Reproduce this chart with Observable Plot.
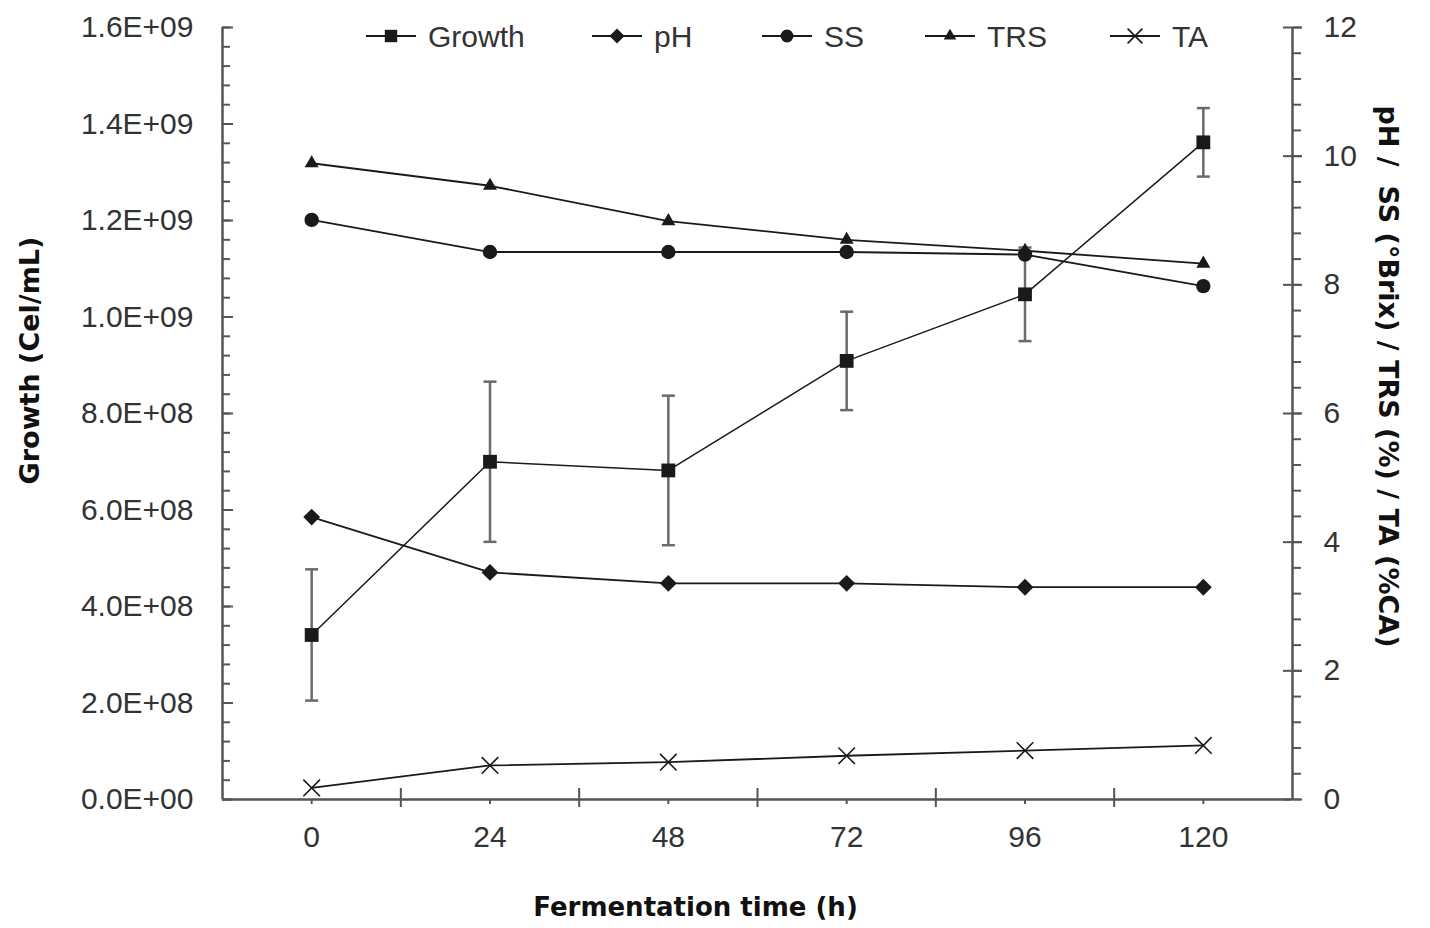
<!DOCTYPE html>
<html><head><meta charset="utf-8">
<script src="https://cdn.jsdelivr.net/npm/d3@7"></script>
<script src="https://cdn.jsdelivr.net/npm/@observablehq/plot@0.6"></script>
<style>
html,body{margin:0;padding:0;background:#fff;}
#chart{position:relative;width:1430px;height:928px;}
#legend{position:absolute;left:0;top:0;pointer-events:none;}
</style></head><body><div id="chart"></div>
<script>
// ---- data ----
const hours = [0, 24, 48, 72, 96, 120];
const growth = [3.41e8, 7.00e8, 6.82e8, 9.09e8, 10.47e8, 13.62e8];
const growthErr = [1.36e8, 1.66e8, 1.55e8, 1.02e8, 0.97e8, 0.71e8];
const pH  = [4.39, 3.53, 3.36, 3.36, 3.30, 3.30];
const ss  = [9.01, 8.51, 8.51, 8.51, 8.47, 7.98];
const trs = [9.89, 9.54, 8.99, 8.70, 8.53, 8.33];
const ta  = [0.18, 0.53, 0.58, 0.68, 0.76, 0.84];

const seriesNames = ["Growth", "pH", "SS", "TRS", "TA"];
const leftTicks = [0, 2e8, 4e8, 6e8, 8e8, 1.0e9, 1.2e9, 1.4e9, 1.6e9];
const rightTicks = [0, 2, 4, 6, 8, 10, 12];
const xMidTicks = [12, 36, 60, 84, 108];
const xTitle = "Fermentation time (h)";
const yLeftTitle = "Growth (Cel/mL)";
const yRightTitle = "pH /\u00a0 SS (°Brix) / TRS (%) / TA (%CA)";

// ---- layout / style ----
const W = 1430, H = 928;
const K = 1.6e9 / 12; // right-axis unit -> left-axis unit
const leftMinor = d3.range(0, 1.6e9 + 1, 4e7);
const rightMinor = d3.range(0, 12.001, 0.4).map(v => v * K);
const axisColor = "#555";
const textColor = "#333";
const lineColor = "#1a1a1a";
const tickFont = "'Liberation Sans', Arial, sans-serif";
const titleFont = "'DejaVu Sans', Verdana, sans-serif";

const sci = d => {
  if (d === 0) return "0.0E+00";
  const e = Math.floor(Math.log10(d) + 1e-9);
  const m = d / Math.pow(10, e);
  return m.toFixed(1) + "E+" + String(e).padStart(2, "0");
};

const capSymbol = {
  draw(ctx, size) { const w = Math.sqrt(size / Math.PI); ctx.moveTo(-w, 0); ctx.lineTo(w, 0); }
};

const symbolSpec = [
  {plot: "square", d3s: d3.symbolSquare, r: 7.8, fill: lineColor, stroke: "none"},
  {plot: "diamond2", d3s: d3.symbolDiamond2, r: 7.6, fill: lineColor, stroke: "none"},
  {plot: "circle", d3s: d3.symbolCircle, r: 7.2, fill: lineColor, stroke: "none"},
  {plot: "triangle", d3s: d3.symbolTriangle, r: 5.2, fill: lineColor, stroke: "none"},
  {plot: "times", d3s: d3.symbolTimes, r: 7.6, fill: "none", stroke: lineColor}
];

const seriesY = [
  (d, i) => growth[i],
  (d, i) => pH[i] * K,
  (d, i) => ss[i] * K,
  (d, i) => trs[i] * K,
  (d, i) => ta[i] * K
];

const seriesMarks = [];
seriesY.forEach((yf, s) => {
  seriesMarks.push(Plot.line(hours, {x: d => d, y: yf, stroke: lineColor, strokeWidth: s === 0 ? 1.5 : 1.8}));
});
seriesY.forEach((yf, s) => {
  const sp = symbolSpec[s];
  seriesMarks.push(Plot.dot(hours, {x: d => d, y: yf, symbol: sp.plot, r: sp.r,
    fill: sp.fill, stroke: sp.stroke, strokeWidth: sp.stroke === "none" ? 0 : 1.6}));
});

const plot = Plot.plot({
  width: W, height: H,
  marginLeft: 222, marginRight: 138, marginTop: 27, marginBottom: 129,
  style: {fontFamily: tickFont, fontSize: "30px", color: textColor, background: "#fff", overflow: "visible"},
  x: {domain: [-12, 132], axis: null, label: null},
  y: {domain: [0, 1.6e9], axis: null, label: null},
  marks: [
    // left axis
    Plot.axisY({anchor: "left", ticks: leftMinor, tickSize: 8, dx: 8, fill: "none", stroke: axisColor, strokeWidth: 2, label: null}),
    Plot.axisY({anchor: "left", ticks: leftTicks, tickSize: 11, dx: 11, fill: "none", stroke: axisColor, strokeWidth: 2, label: null}),
    Plot.axisY({anchor: "left", ticks: leftTicks, tickSize: 0, tickPadding: 29, tickFormat: sci, stroke: "none", fill: textColor, fontSize: 30, label: null}),
    // right axis
    Plot.axisY({anchor: "right", ticks: rightMinor, tickSize: 8, fill: "none", stroke: axisColor, strokeWidth: 2, label: null}),
    Plot.axisY({anchor: "right", ticks: rightTicks.map(v => v * K), tickSize: 19, dx: -10, fill: "none", stroke: axisColor, strokeWidth: 2, label: null}),
    Plot.axisY({anchor: "right", ticks: rightTicks.map(v => v * K), tickSize: 0, tickPadding: 31, tickFormat: d => String(Math.round(d / K)), stroke: "none", fill: textColor, fontSize: 30, label: null}),
    // x axis
    Plot.axisX({anchor: "bottom", ticks: hours, tickSize: 5, fill: "none", stroke: axisColor, strokeWidth: 2, label: null}),
    Plot.axisX({anchor: "bottom", ticks: xMidTicks, tickSize: 19, dy: -11, fill: "none", stroke: axisColor, strokeWidth: 2, label: null}),
    Plot.axisX({anchor: "bottom", ticks: hours, tickSize: 0, tickPadding: 26, tickFormat: d => String(d), stroke: "none", fill: textColor, fontSize: 30, label: null}),
    // axis lines
    Plot.ruleX([-12, 132], {stroke: axisColor, strokeWidth: 2.5}),
    Plot.ruleY([0], {stroke: axisColor, strokeWidth: 2.5}),
    // error bars
    Plot.ruleX(hours, {x: d => d, y1: (d, i) => growth[i] - growthErr[i], y2: (d, i) => growth[i] + growthErr[i], stroke: "#6a6a6a", strokeWidth: 2.5}),
    Plot.dot(hours, {x: d => d, y: (d, i) => growth[i] + growthErr[i], symbol: capSymbol, r: 6.5, fill: "none", stroke: "#6a6a6a", strokeWidth: 2.5}),
    Plot.dot(hours, {x: d => d, y: (d, i) => growth[i] - growthErr[i], symbol: capSymbol, r: 6.5, fill: "none", stroke: "#6a6a6a", strokeWidth: 2.5}),
    // series
    ...seriesMarks,
    // titles
    Plot.text([yLeftTitle], {text: d => d, frameAnchor: "left", textAnchor: "middle", rotate: -90, dx: -192, dy: -53,
      fontFamily: titleFont, fontWeight: "bold", fontSize: 27, fill: "#111"}),
    Plot.text([yRightTitle], {text: d => d, frameAnchor: "right", textAnchor: "middle", rotate: 90, dx: 95, dy: -37,
      fontFamily: titleFont, fontWeight: "bold", fontSize: 27, fill: "#111"}),
    Plot.text([xTitle], {text: d => d, frameAnchor: "bottom", textAnchor: "middle", dx: -62, dy: 116,
      fontFamily: titleFont, fontWeight: "bold", fontSize: 26, fill: "#111"})
  ]
});
document.getElementById("chart").appendChild(plot);

// ---- legend (overlay at top) ----
const legendStarts = [366, 592, 762, 925, 1110];
const lg = d3.select("#chart").append("svg").attr("id", "legend").attr("width", W).attr("height", 80);
seriesNames.forEach((name, i) => {
  const sp = symbolSpec[i];
  const g = lg.append("g").attr("transform", `translate(${legendStarts[i]},36)`);
  g.append("line").attr("x1", 0).attr("x2", 50).attr("y1", 0).attr("y2", 0)
    .attr("stroke", lineColor).attr("stroke-width", 1.8);
  g.append("path").attr("transform", "translate(25,0)")
    .attr("d", d3.symbol(sp.d3s, Math.PI * sp.r * sp.r * 0.8)())
    .attr("fill", sp.fill).attr("stroke", sp.stroke).attr("stroke-width", sp.stroke === "none" ? 0 : 1.6);
  g.append("text").attr("x", 62).attr("dy", "0.35em").text(name)
    .attr("font-family", tickFont).attr("font-size", 30).attr("fill", textColor);
});
</script></body></html>
